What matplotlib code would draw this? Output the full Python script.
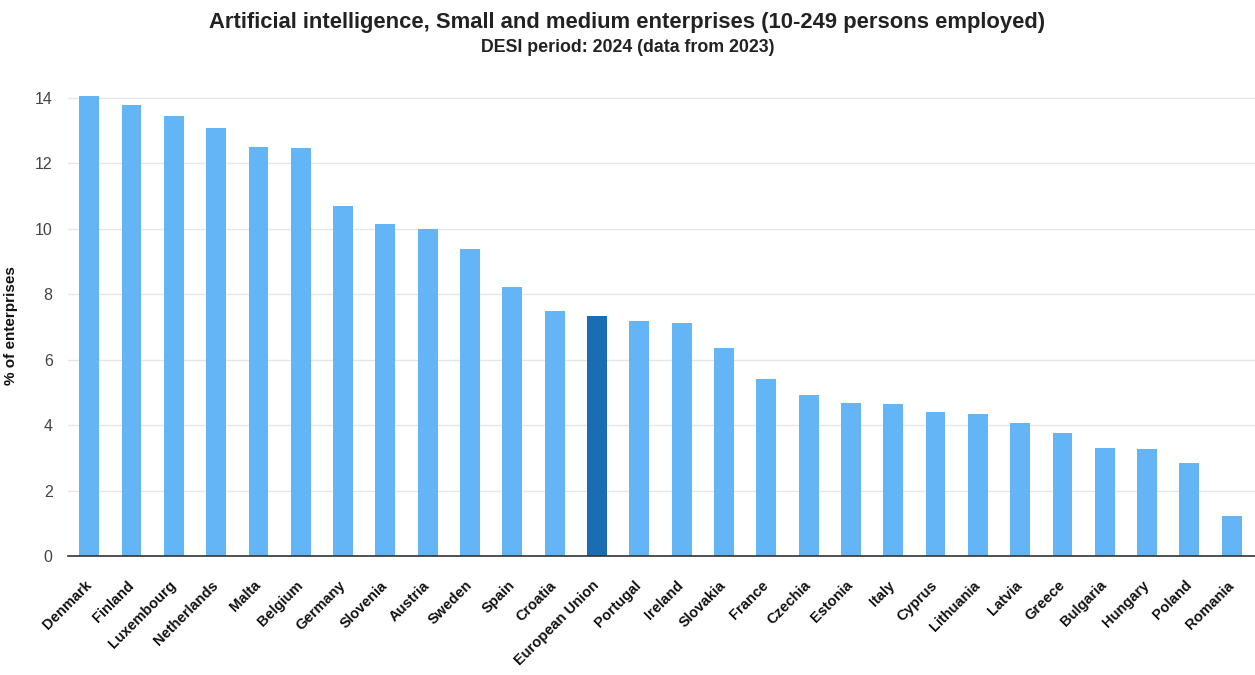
import matplotlib
matplotlib.use("Agg")
import matplotlib.pyplot as plt
from matplotlib.transforms import ScaledTranslation

# --- data ---
countries = ["Denmark", "Finland", "Luxembourg", "Netherlands", "Malta", "Belgium",
             "Germany", "Slovenia", "Austria", "Sweden", "Spain", "Croatia",
             "European Union", "Portugal", "Ireland", "Slovakia", "France", "Czechia",
             "Estonia", "Italy", "Cyprus", "Lithuania", "Latvia", "Greece",
             "Bulgaria", "Hungary", "Poland", "Romania"]
values = [14.05, 13.79, 13.45, 13.08, 12.51, 12.47,
          10.71, 10.15, 10.01, 9.39, 8.22, 7.50,
          7.34, 7.18, 7.12, 6.37, 5.40, 4.93,
          4.68, 4.65, 4.40, 4.34, 4.08, 3.77,
          3.31, 3.28, 2.85, 1.23]
highlight = "European Union"

plt.rcParams['font.family'] = ['Liberation Sans', 'DejaVu Sans']

fig = plt.figure(figsize=(12.55, 6.75), dpi=100)
ax = fig.add_axes([0.0542, 0.1763, 0.9458, 0.6833])

colors = ['#1a6cb3' if c == highlight else '#64b5f6' for c in countries]
ax.bar(range(len(countries)), values, width=0.47, color=colors, zorder=3)

ax.set_xlim(-0.5, len(countries) - 0.45)
ax.set_ylim(0, 14.1)
ax.set_yticks(range(0, 15, 2))
ax.tick_params(axis='y', length=0, labelsize=11.5, labelcolor='#444444', pad=11)
ax.tick_params(axis='x', length=0, pad=16)
ax.set_xticks(range(len(countries)))
ax.set_xticklabels(countries, rotation=45, ha='right', rotation_mode='anchor',
                   fontsize=10.5, fontweight='bold', color='#111111')
# nudge labels a little to the left, like the original
shift = ScaledTranslation(-0.05, 0, fig.dpi_scale_trans)
for lab in ax.get_xticklabels():
    lab.set_transform(lab.get_transform() + shift)

ax.grid(axis='y', color='#e6e6e6', linewidth=1, zorder=0)
for s in ['top', 'right', 'left']:
    ax.spines[s].set_visible(False)
ax.spines['bottom'].set_color('#333333')
ax.spines['bottom'].set_linewidth(1.2)
ax.spines['bottom'].set_zorder(4)

ax.set_ylabel("% of enterprises", fontsize=11, fontweight='bold', color='#111111')
ax.yaxis.set_label_coords(-0.042, 0.5)

fig.text(0.5, 0.967, "Artificial intelligence, Small and medium enterprises (10-249 persons employed)",
         ha='center', va='center', fontsize=15.8, fontweight='bold', color='#222222')
fig.text(0.5, 0.929, "DESI period: 2024 (data from 2023)",
         ha='center', va='center', fontsize=12.8, fontweight='bold', color='#222222')

fig.savefig("out.png", dpi=100)
